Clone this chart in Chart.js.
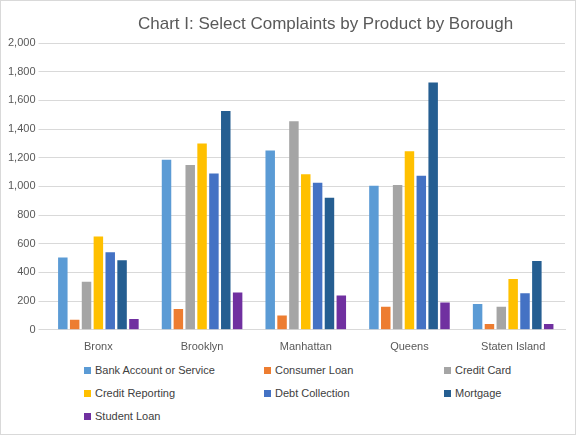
<!DOCTYPE html>
<html><head><script src="https://cdn.jsdelivr.net/npm/chart.js@4"></script>
<style>
body{margin:0;background:#fff;font-family:"Liberation Sans",Arial,sans-serif}
#wrap{position:absolute;left:0;top:0;width:574px;height:433px;border:1px solid #d9d9d9;}
#c{position:absolute;left:0;top:0}
#title{position:absolute;left:137px;top:13px;font-size:17px;color:#595959;white-space:nowrap}
.lg{position:absolute;font-size:11px;color:#404040;white-space:nowrap}
.lg span{display:inline-block;width:7px;height:7px;margin-right:4px;vertical-align:0}
</style></head><body>
<div id="wrap"><canvas id="c" width="574" height="360"></canvas><div id="title">Chart I: Select Complaints by Product by Borough</div><div id="legend"></div></div>
<script>
const categories=["Bronx","Brooklyn","Manhattan","Queens","Staten Island"];
const seriesNames=["Bank Account or Service","Consumer Loan","Credit Card","Credit Reporting","Debt Collection","Mortgage","Student Loan"];
const bank=[505,1185,1250,1005,180];
const consumer=[70,145,100,160,40];
const card=[335,1150,1455,1010,160];
const reporting=[650,1300,1085,1245,355];
const debt=[540,1090,1025,1075,255];
const mortgage=[485,1525,920,1725,480];
const student=[75,260,240,190,40];
const colors=["#5B9BD5","#ED7D31","#A5A5A5","#FFC000","#4472C4","#255E91","#7030A0"];
const values=[bank,consumer,card,reporting,debt,mortgage,student];
new Chart(document.getElementById('c'),{type:'bar',
data:{labels:categories,datasets:values.map((v,i)=>({label:seriesNames[i],data:v,backgroundColor:colors[i],categoryPercentage:0.8,barPercentage:0.8}))},
options:{responsive:false,animation:false,
layout:{padding:{left:4,right:10,top:42,bottom:4}},
plugins:{legend:{display:false},title:{display:false}},
scales:{x:{grid:{display:false},border:{color:"#d9d9d9"},ticks:{color:"#595959",font:{size:11}}},
y:{min:0,max:2000,ticks:{stepSize:200,color:"#595959",font:{size:11},callback:v=>v.toLocaleString('en-US')},grid:{color:"#d9d9d9"},border:{display:false}}}}});
const lg=document.getElementById('legend');
seriesNames.forEach((n,i)=>{const d=document.createElement('div');d.className='lg';
d.style.left=(83+180*(i%3))+'px';d.style.top=(363+23*Math.floor(i/3))+'px';
d.innerHTML='<span style="background:'+colors[i]+'"></span>'+n;lg.appendChild(d);});
</script></body></html>
